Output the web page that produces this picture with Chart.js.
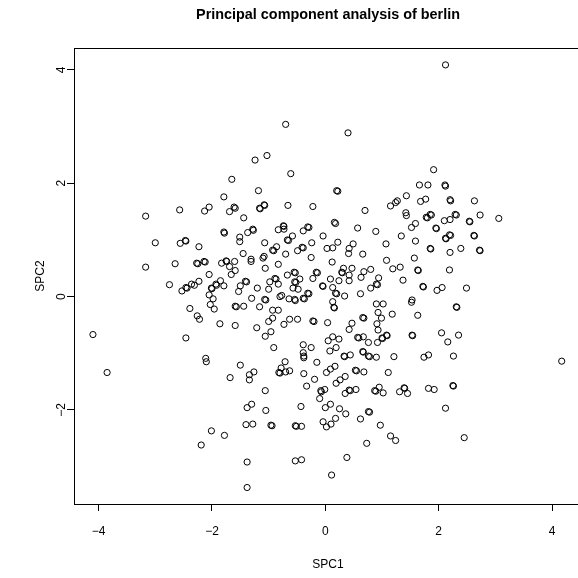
<!DOCTYPE html>
<html lang="en">
<head>
  <meta charset="utf-8">
  <title>Principal component analysis of berlin</title>
  <style>
    html, body { margin: 0; padding: 0; background: #ffffff; }
    #pca { display: block; }
  </style>
  <script src="https://cdn.jsdelivr.net/npm/chart.js"></script>
</head>
<body>
  <canvas id="pca" width="578" height="578"></canvas>
  <script>
    const chartTitle = 'Principal component analysis of berlin';
    const xLabel = 'SPC1';
    const yLabel = 'SPC2';
    const xTicks = [-4, -2, 0, 2, 4];
    const yTicks = [-2, 0, 2, 4];

    // scores (first and second component)
    const spc1 = [
      -1.65, -1.79, -0.70, 0.40, -1.24, -1.03, -0.61, -1.18, 0.20, 0.22,
      2.12, 1.91, 1.66, 1.81, 2.11, 2.12, 1.43, 1.68, 1.77, 2.20, 2.21, 2.63, 1.27,
      -3.17, -2.57, -2.13, -2.05, -1.69, -1.61, -1.59, -1.79, -1.78, -3.00,
      -2.56, -2.47, -2.46, -2.23, -3.17, -2.65, -2.27, -2.25, -2.14, -2.12,
      -1.83, -1.75, -1.74, -1.60, -1.69, -1.59, -1.66, -2.05, -2.75, -2.53,
      -2.46, -2.44, -2.36, -2.31, -2.23, -1.93, -1.92, -2.01, -2.00, -1.85,
      -1.79, -2.05, -1.98, -2.03, -1.96, -1.59, -1.57, -2.39, -2.26, -2.22,
      -1.86, -1.59, -4.10, -2.46,
      -1.16, -1.15, -1.08, -1.07, -0.66, -0.22, 0.70, 1.15, 1.24, -1.44,
      -1.28, -1.27, -1.37, -0.83, -0.74, -0.73, -0.73, -0.39, -0.31, -0.29,
      0.16, 0.18, 0.57, 0.89, -1.51, -1.51, -1.07, -0.67, -0.65, -0.58,
      -0.86, -0.93, -0.91, -0.41, -0.39, -0.24, -0.04, 0.03, 0.13, 0.22,
      0.42, 0.49, 0.41, 0.66, 1.07, -1.45, -1.31, -1.31, -1.10, -1.08,
      -0.70, -0.49, -0.25, -0.83, -1.06, 0.12, 0.32, 0.47, 0.68, 0.80,
      1.08, 1.19, -0.67, -0.55, -0.53, -0.54, -0.52, -0.45, -0.22, -0.16,
      -0.14, 0.09, 0.29, 0.30, 0.24, 0.42, 0.42, 0.63, 0.94, 0.90,
      0.92, 0.80, -1.50, -1.41, -1.39, -1.53, -1.20, -0.98, -0.89, -0.87,
      -1.00, -0.83, -0.57, -0.48, -0.31, -0.29, -0.39, -0.37, -0.05, -0.04,
      0.13, 0.18, 0.20, 0.34, 0.62, -1.30, -1.07, -1.05, -1.16, -0.80,
      -0.77, -0.64, -0.54, -0.53, 0.13, 0.15, 0.16, -1.44, 0.90, 1.02,
      1.18, 0.93, 0.99, -0.83, -0.93, -0.93, -1.00, -0.63, -0.49, -0.73,
      -0.22, -0.20, 0.04, 0.47, 0.42, 0.66, 0.68, 0.91, 0.93, 1.00,
      1.01, 1.08, 1.09, -1.21, -1.06, -0.96, -0.91, -0.39, -0.25, -0.39,
      -0.38, 0.05, 0.13, 0.24, 0.19, 0.08, 0.57, 0.59, 0.67, 0.76,
      0.66, 0.67, 0.92, 0.76, 0.78, 0.90, 1.21, 0.33, 0.34, 0.44,
      1.42, 1.43, 1.59, 1.52, 1.78, 1.80, 1.85, 1.87, 2.10, 2.20,
      2.29, 2.31, 2.54, 2.55, 2.73, 3.06, 1.34, 1.95, 1.96, 1.59,
      2.12, 2.13, 2.19, 2.21, 2.62, 2.63, 1.85, 1.86, 2.20, 2.39,
      2.72, 2.73, 1.57, 1.32, 1.63, 1.64, 2.19, 1.37, 1.72, 1.73,
      1.97, 2.06, 2.49, 1.53, 1.52, 2.31, 2.32, 1.63, 1.53, 1.54,
      2.05, 2.16, 2.35, 1.74, 1.82, 2.26,
      -2.11, -2.10, -3.85, -1.68, -2.01, -1.78, -2.19,
      -1.50, -1.34, -1.26, -1.34, -0.71, -0.82, -0.80, -0.78, -0.70, -0.63,
      -0.38, -0.15, -0.38, -0.33, -0.19, 0.02, 0.09, 0.17, 0.53, 0.55,
      0.68, 1.11, 0.35, 0.26, 0.19, -1.06, -0.08, -0.07, -0.01, -0.10,
      0.35, 0.42, 0.44, 0.54, 0.87, 0.89, 0.95, 1.02, -1.38, -1.30,
      -1.05, -0.43, 0.00, 0.09, 0.25, 0.36, 0.76, 0.78, -1.40, -1.28,
      -0.96, -0.94, -0.53, -0.51, -0.42, -0.04, 0.02, 0.10, 0.18, 0.62,
      0.97, 1.15, 1.24, 0.73, -1.38, -0.53, -0.42, 0.38, 0.11, -1.38,
      4.17, 1.31, 1.39, 1.40, 1.45, 1.82, 1.92, 2.25, 2.26, 2.12, 2.45
    ];
    const spc2 = [
      2.07, 1.76, 3.04, 2.89, 2.41, 2.49, 2.17, 1.87, 1.87, 1.86,
      4.09, 2.24, 1.97, 1.97, 1.97, 1.95, 1.78, 1.68, 1.72, 1.71, 1.69, 1.69, 1.69,
      1.42, 1.53, 1.51, 1.58, 1.50, 1.58, 1.56, 1.14, 1.12, 0.95,
      0.94, 0.99, 0.98, 0.88, 0.52, 0.58, 0.59, 0.58, 0.62, 0.61,
      0.59, 0.63, 0.62, 0.62, 0.53, 0.46, 0.39, 0.39, 0.21, 0.10,
      0.16, 0.15, 0.22, 0.20, 0.27, 0.22, 0.20, 0.15, 0.14, 0.28,
      0.19, 0.03, -0.04, -0.14, -0.22, -0.17, -0.18, -0.21, -0.34, -0.40,
      -0.48, -0.51, -0.67, -0.73,
      1.56, 1.55, 1.62, 1.61, 1.61, 1.59, 1.52, 1.60, 1.66, 1.39,
      1.19, 1.17, 1.13, 1.18, 1.25, 1.24, 1.19, 1.16, 1.23, 1.22,
      1.31, 1.29, 1.21, 1.15, 1.05, 0.97, 0.95, 1.00, 0.99, 1.07,
      0.88, 0.82, 0.81, 0.87, 0.86, 0.95, 1.07, 0.85, 0.86, 0.96,
      0.85, 0.93, 0.76, 0.75, 0.93, 0.76, 0.62, 0.66, 0.68, 0.71,
      0.75, 0.81, 0.69, 0.57, 0.50, 0.61, 0.50, 0.50, 0.44, 0.48,
      0.64, 0.49, 0.38, 0.43, 0.42, 0.26, 0.25, 0.31, 0.32, 0.43,
      0.42, 0.31, 0.43, 0.42, 0.28, 0.38, 0.28, 0.34, 0.33, 0.22,
      0.21, 0.15, 0.19, 0.27, 0.26, 0.09, 0.15, 0.26, 0.32, 0.31,
      0.13, 0.22, 0.15, 0.13, 0.06, 0.05, -0.03, -0.04, 0.19, 0.18,
      0.16, 0.06, 0.05, 0.01, 0.05, -0.03, -0.05, -0.06, -0.18, 0.00,
      0.02, -0.04, -0.05, -0.07, -0.09, -0.19, -0.20, -0.17, -0.13, -0.13,
      -0.31, -0.28, -0.38, -0.24, -0.24, -0.38, -0.44, -0.40, -0.40, -0.49,
      -0.43, -0.44, -0.46, -0.47, -0.58, -0.37, -0.38, -0.48, -0.59, -0.73,
      -0.74, -0.68, -0.69, -0.55, -0.70, -0.62, -0.90, -0.85, -0.90, -0.99,
      -1.05, -0.78, -0.71, -0.75, -0.90, -0.96, -0.72, -0.73, -0.71, -0.81,
      -0.97, -0.98, -0.81, -1.05, -1.06, -1.07, -1.06, -1.05, -1.06, -1.03,
      1.48, 1.43, 1.29, 1.22, 1.40, 1.39, 1.45, 1.44, 1.34, 1.36,
      1.45, 1.44, 1.33, 1.32, 1.44, 1.38, 1.07, 1.21, 1.20, 0.98,
      1.03, 1.02, 1.09, 1.08, 1.08, 1.07, 0.85, 0.84, 0.78, 0.85,
      0.82, 0.81, 0.68, 0.52, 0.47, 0.46, 0.47, 0.29, 0.18, 0.17,
      0.11, 0.16, 0.15, -0.06, -0.10, -0.18, -0.19, -0.33, -0.68, -0.69,
      -0.64, -0.80, -0.68, -1.07, -1.03, -1.05,
      -1.09, -1.15, -1.34, -1.43, -2.37, -2.45, -2.62,
      -1.21, -1.38, -1.33, -1.47, -1.15, -1.34, -1.35, -1.26, -1.33, -1.31,
      -1.08, -1.16, -1.36, -1.58, -1.46, -1.34, -1.28, -1.23, -1.30, -1.31,
      -1.33, -1.34, -1.41, -1.47, -1.53, -1.66, -1.66, -1.68, -1.64, -1.80,
      -1.71, -1.65, -1.66, -1.64, -1.66, -1.67, -1.60, -1.70, -1.96, -1.90,
      -2.01, -1.94, -1.96, -1.90, -1.98, -2.07, -2.03, -2.04, -2.26, -2.25,
      -2.27, -2.28, -2.28, -2.29, -2.29, -2.21, -2.30, -2.25, -2.15, -2.16,
      -2.27, -2.46, -2.54, -2.59, -2.92, -2.90, -2.88, -2.84, -3.15, -3.37,
      -1.14, -1.68, -1.61, -1.62, -1.71, -1.62, -1.64, -1.57, -1.58, -1.97, -2.49
    ];

    const FONT = '"Liberation Sans", Arial, Helvetica, sans-serif';

    // R-style frame, title and axis labels
    const rFrame = {
      id: 'rFrame',
      afterDraw(chart) {
        const ctx = chart.ctx;
        const a = chart.chartArea;
        const ys = chart.scales.y;
        const cx = (a.left + chart.width + 4) / 2;
        ctx.save();
        ctx.strokeStyle = '#000';
        ctx.lineWidth = 1;
        ctx.strokeRect(Math.round(a.left) + 0.5, Math.round(a.top) + 0.5, a.right - a.left + 10, Math.round(a.bottom - a.top));
        ctx.fillStyle = '#000';
        ctx.textAlign = 'center';
        ctx.textBaseline = 'middle';
        ctx.font = 'bold 14.4px ' + FONT;
        ctx.fillText(chartTitle, cx, 15);
        ctx.font = '12px ' + FONT;
        ctx.fillText(xLabel, cx, 565);
        yTicks.forEach(v => {
          ctx.save();
          ctx.translate(62, ys.getPixelForValue(v));
          ctx.rotate(-Math.PI / 2);
          ctx.fillText(v < 0 ? '\u2212' + Math.abs(v) : String(v), 0, 0);
          ctx.restore();
        });
        ctx.translate(41, (a.top + a.bottom) / 2);
        ctx.rotate(-Math.PI / 2);
        ctx.fillText(yLabel, 0, 0);
        ctx.restore();
      }
    };

    new Chart(document.getElementById('pca'), {
      type: 'scatter',
      data: {
        datasets: [{
          data: spc1.map((x, i) => ({ x: x, y: spc2[i] })),
          pointStyle: 'circle',
          pointRadius: 3.1,
          pointHoverRadius: 3.1,
          borderColor: '#000',
          borderWidth: 1,
          backgroundColor: 'rgba(0,0,0,0)'
        }]
      },
      options: {
        responsive: false,
        animation: false,
        events: [],
        layout: { padding: { top: 48, right: 0, bottom: 0, left: 0 } },
        plugins: { legend: { display: false }, tooltip: { enabled: false }, title: { display: false } },
        scales: {
          x: {
            type: 'linear',
            min: -4.434,
            max: 4.385,
            afterBuildTicks: s => { s.ticks = xTicks.map(v => ({ value: v })); },
            afterFit: s => { s.height = 74; },
            border: { display: false },
            grid: { drawOnChartArea: false, drawTicks: true, tickLength: 7, color: '#000', lineWidth: 1 },
            ticks: {
              color: '#000',
              padding: 13,
              maxRotation: 0,
              font: { family: FONT, size: 12 },
              callback: v => v < 0 ? '\u2212' + Math.abs(v) : String(v)
            }
          },
          y: {
            type: 'linear',
            min: -3.661,
            max: 4.388,
            afterBuildTicks: s => { s.ticks = yTicks.map(v => ({ value: v })); },
            afterFit: s => { s.width = 74; },
            border: { display: false },
            grid: { drawOnChartArea: false, drawTicks: true, tickLength: 7, color: '#000', lineWidth: 1 },
            ticks: { display: false }
          }
        }
      },
      plugins: [rFrame]
    });
  </script>
</body>
</html>
